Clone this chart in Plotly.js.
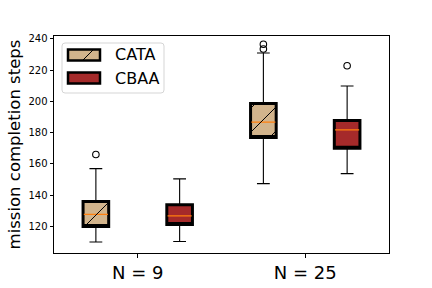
<!DOCTYPE html>
<html>
<head>
<meta charset="utf-8">
<script src="https://cdn.plot.ly/plotly-3.0.1.min.js"></script>
<style>html,body{margin:0;padding:0;background:#fff;}#chart{width:432px;height:288px;}</style>
</head>
<body>
<div id="chart"></div>
<script>
// ---- data ----
const categories = ['N = 9', 'N = 25'];
const seriesNames = ['CATA', 'CBAA'];
const cataLower = [110.0, 147.4];
const cataQ1 = [120.0, 176.8];
const cataMedian = [127.7, 186.7];
const cataQ3 = [136.0, 198.7];
const cataUpper = [157.0, 230.9];
const cataOutliers = [[166.0], [233.5, 236.5]];
const cbaaLower = [110.4, 153.8];
const cbaaQ1 = [121.3, 170.0];
const cbaaMedian = [126.8, 181.7];
const cbaaQ3 = [133.8, 187.7];
const cbaaUpper = [150.4, 209.8];
const cbaaOutliers = [[], [222.8]];
const yTicks = [120, 140, 160, 180, 200, 220, 240];

// ---- layout constants ----
const W = 432, H = 288;
const M = {l: 54, r: 43, t: 36, b: 35};
const PW = W - M.l - M.r, PH = H - M.t - M.b;
const xRange = [-0.5, 1.5];
const yRange = [103, 241.8];
const offset = 0.25, boxW = 0.153;
const colors = {CATA: '#d2b48c', CBAA: '#a52a2a'};

function px2x(px) { return xRange[0] + (px - M.l) / PW * (xRange[1] - xRange[0]); }
function py2y(py) { return yRange[1] - (py - M.t) / PH * (yRange[1] - yRange[0]); }
function x2px(x) { return M.l + (x - xRange[0]) / (xRange[1] - xRange[0]) * PW; }
function y2py(y) { return M.t + (yRange[1] - y) / (yRange[1] - yRange[0]) * PH; }
function px2paperX(px) { return (px - M.l) / PW; }
function py2paperY(py) { return (H - M.b - py) / PH; }

// hatch '/' lines: x + y = 24k - 1 in pixel space
function hatch(x0, x1, y0, y1) {
  const segs = [];
  for (let k = 0; k < 60; k++) {
    const C = 24 * k - 1;
    const xs = Math.max(x0, C - y1), xe = Math.min(x1, C - y0);
    if (xe - xs > 0.5) segs.push([xs, C - xs, xe, C - xe]);
  }
  return segs;
}

const traces = [];
const shapes = [];
const series = [
  {name: 'CATA', lo: cataLower, q1: cataQ1, med: cataMedian, q3: cataQ3, hi: cataUpper, out: cataOutliers, off: -offset, hatch: true},
  {name: 'CBAA', lo: cbaaLower, q1: cbaaQ1, med: cbaaMedian, q3: cbaaQ3, hi: cbaaUpper, out: cbaaOutliers, off: offset, hatch: false}
];

series.forEach(s => {
  const pos = categories.map((c, i) => i + s.off);
  // whiskers
  traces.push({type: 'box', x: pos, q1: s.q1, median: s.q1, q3: s.q3, lowerfence: s.lo, upperfence: s.hi,
    width: boxW, whiskerwidth: 0.5, fillcolor: 'rgba(0,0,0,0)', line: {color: '#000', width: 1.1},
    boxpoints: false, showlegend: false, hoverinfo: 'skip'});
  // filled box with thick outline
  traces.push({type: 'box', x: pos, q1: s.q1, median: s.q1, q3: s.q3, lowerfence: s.q1, upperfence: s.q3,
    width: boxW, whiskerwidth: 0, fillcolor: colors[s.name], line: {color: '#000', width: 3},
    boxpoints: false, showlegend: false, hoverinfo: 'skip'});
  // median line
  traces.push({type: 'box', x: pos, q1: s.med, median: s.med, q3: s.med, lowerfence: s.med, upperfence: s.med,
    width: boxW * 0.94, whiskerwidth: 0, fillcolor: 'rgba(0,0,0,0)', line: {color: '#ff7f0e', width: 1.3},
    boxpoints: false, showlegend: false, hoverinfo: 'skip'});
  // outliers
  const ox = [], oy = [];
  s.out.forEach((arr, i) => arr.forEach(v => { ox.push(i + s.off); oy.push(v); }));
  traces.push({type: 'scatter', mode: 'markers', x: ox, y: oy, showlegend: false, hoverinfo: 'skip',
    marker: {symbol: 'circle-open', size: 6.5, color: '#000', line: {width: 1.1, color: '#000'}}});
  // hatch
  if (s.hatch) {
    pos.forEach((p, i) => {
      const x0 = x2px(p - boxW / 2), x1 = x2px(p + boxW / 2);
      const y0 = y2py(s.q3[i]), y1 = y2py(s.q1[i]);
      hatch(x0, x1, y0, y1).forEach(g => shapes.push({type: 'line', xref: 'x', yref: 'y',
        x0: px2x(g[0]), y0: py2y(g[1]), x1: px2x(g[2]), y1: py2y(g[3]), line: {color: '#000', width: 1}}));
    });
  }
});

// ---- legend (drawn manually to match the wide patches) ----
const annotations = [];
const lg = {x0: 62, x1: 164, y0: 43, y1: 93, r: 3};
const pth = `M${px2paperX(lg.x0 + lg.r)},${py2paperY(lg.y0)} L${px2paperX(lg.x1 - lg.r)},${py2paperY(lg.y0)} ` +
  `Q${px2paperX(lg.x1)},${py2paperY(lg.y0)} ${px2paperX(lg.x1)},${py2paperY(lg.y0 + lg.r)} ` +
  `L${px2paperX(lg.x1)},${py2paperY(lg.y1 - lg.r)} Q${px2paperX(lg.x1)},${py2paperY(lg.y1)} ${px2paperX(lg.x1 - lg.r)},${py2paperY(lg.y1)} ` +
  `L${px2paperX(lg.x0 + lg.r)},${py2paperY(lg.y1)} Q${px2paperX(lg.x0)},${py2paperY(lg.y1)} ${px2paperX(lg.x0)},${py2paperY(lg.y1 - lg.r)} ` +
  `L${px2paperX(lg.x0)},${py2paperY(lg.y0 + lg.r)} Q${px2paperX(lg.x0)},${py2paperY(lg.y0)} ${px2paperX(lg.x0 + lg.r)},${py2paperY(lg.y0)} Z`;
shapes.push({type: 'path', xref: 'paper', yref: 'paper', path: pth, fillcolor: 'rgba(255,255,255,0.8)',
  line: {color: '#d5d5d5', width: 1}});
seriesNames.forEach((n, i) => {
  const py0 = 49.5 + i * 23, py1 = py0 + 11, px0 = 68, px1 = 100;
  shapes.push({type: 'rect', xref: 'paper', yref: 'paper', x0: px2paperX(px0), x1: px2paperX(px1),
    y0: py2paperY(py1), y1: py2paperY(py0), fillcolor: colors[n], line: {color: '#000', width: 2.5}});
  if (n === 'CATA') {
    hatch(px0, px1, py0, py1).forEach(g => shapes.push({type: 'line', xref: 'paper', yref: 'paper',
      x0: px2paperX(g[0]), y0: py2paperY(g[1]), x1: px2paperX(g[2]), y1: py2paperY(g[3]), line: {color: '#000', width: 1}}));
  }
  annotations.push({xref: 'paper', yref: 'paper', x: px2paperX(113), y: py2paperY((py0 + py1) / 2),
    xanchor: 'left', yanchor: 'middle', text: n, showarrow: false,
    font: {family: 'DejaVu Sans', size: 16, color: '#000'}});
});

const layout = {
  width: W, height: H,
  margin: M,
  paper_bgcolor: '#fff', plot_bgcolor: '#fff',
  showlegend: false,
  boxmode: 'overlay',
  font: {family: 'DejaVu Sans', color: '#000'},
  xaxis: {range: xRange, tickvals: [0, 1], ticktext: categories, showgrid: false, zeroline: false,
    showline: true, mirror: true, linecolor: '#000', linewidth: 1, ticks: 'outside', ticklen: 3.5,
    tickcolor: '#000', tickfont: {size: 18, family: 'DejaVu Sans', color: '#000'}},
  yaxis: {range: yRange, tickvals: yTicks, showgrid: false, zeroline: false,
    showline: true, mirror: true, linecolor: '#000', linewidth: 1, ticks: 'outside', ticklen: 3.5,
    tickcolor: '#000', tickfont: {size: 10, family: 'DejaVu Sans', color: '#000'},
    title: {text: 'mission completion steps', font: {size: 16.5, family: 'DejaVu Sans', color: '#000'}, standoff: 3}},
  shapes: shapes,
  annotations: annotations
};

Plotly.newPlot('chart', traces, layout, {staticPlot: true, displayModeBar: false});
</script>
</body>
</html>
